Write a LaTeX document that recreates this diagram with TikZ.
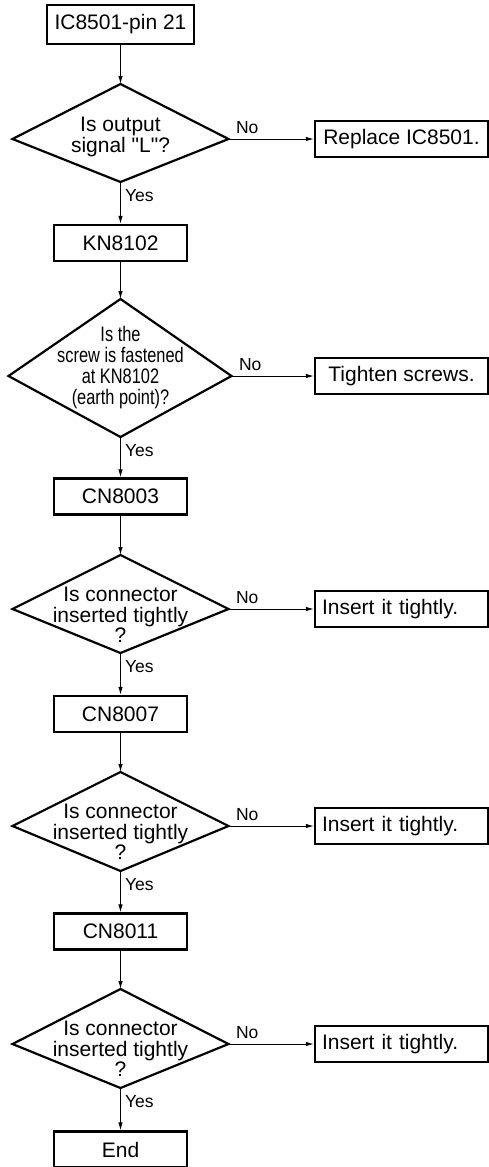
\documentclass[tikz,border=0pt]{standalone}
\usepackage{fontspec}
\newfontfamily\flowfont{Liberation Sans}
\newfontfamily\flownarrow[FakeStretch=0.78]{Liberation Sans}
\usetikzlibrary{arrows.meta}

\begin{document}
\begin{tikzpicture}[x=1pt, y=-1pt,
box/.style={draw, line width=2.2pt, inner sep=0pt, minimum width=133pt, minimum height=36pt,
    font=\flowfont\fontsize{21}{21}\selectfont},
fix/.style={box, minimum width=173pt},
insert/.style={fix, text width=159pt, inner xsep=7pt, align=left},
ask/.style={inner sep=0pt, align=center, font=\flowfont\fontsize{21}{20.5}\selectfont},
rim/.style={line width=2.2pt},
flow/.style={line width=1pt, -{Latex[length=8pt,width=4.5pt]}},
no/.style={pos=0, anchor=base west, xshift=7pt, yshift=6pt, inner sep=0pt,
    font=\flowfont\fontsize{17.5}{17.5}\selectfont},
yes/.style={pos=0, anchor=base west, xshift=4pt, yshift=-19pt, inner sep=0pt,
    font=\flowfont\fontsize{17.5}{17.5}\selectfont}]
\useasboundingbox (0,0) rectangle (489,1167);

\node[box, minimum width=147pt, minimum height=39pt] (start) at (120.5,24.5) {IC8501-pin 21};

% output signal
\coordinate (q1n) at (120.5,84);
\coordinate (q1e) at (228.5,139);
\coordinate (q1s) at (120.5,182);
\coordinate (q1w) at (12.5,139);
\draw[rim] (q1n) -- (q1e) -- (q1s) -- (q1w) -- cycle;
\node[ask, font=\flowfont\fontsize{21}{19}\selectfont] (q1) at (120.5,137) {Is output\\signal "L"?};
\node[fix] (fix1) at (401.5,139) {Replace IC8501.};
\node[box] (kn) at (120.5,243) {KN8102};

% earth screw
\coordinate (q2n) at (120.5,299);
\coordinate (q2e) at (231.5,376);
\coordinate (q2s) at (120.5,437);
\coordinate (q2w) at (8.5,376);
\draw[rim] (q2n) -- (q2e) -- (q2s) -- (q2w) -- cycle;
\node[ask, font=\flownarrow\fontsize{21}{21}\selectfont] (q2) at (120.5,367.5)
  {Is the\\screw is fastened\\at KN8102\\(earth point)?};
\node[fix] (fix2) at (401.5,376) {Tighten screws.};
\node[box] (cn3) at (120.5,496.5) {CN8003};

% connectors
\coordinate (q3n) at (120.5,555);
\coordinate (q3e) at (228.5,609);
\coordinate (q3s) at (120.5,653);
\coordinate (q3w) at (12.5,609);
\draw[rim] (q3n) -- (q3e) -- (q3s) -- (q3w) -- cycle;
\node[ask] (q3) at (120.5,615) {Is connector\\inserted tightly\\?};
\node[insert] (fix3) at (401.5,609) {Insert it tightly.};
\node[box] (cn7) at (120.5,714) {CN8007};

\coordinate (q4n) at (120.5,772);
\coordinate (q4e) at (228.5,826);
\coordinate (q4s) at (120.5,871);
\coordinate (q4w) at (12.5,826);
\draw[rim] (q4n) -- (q4e) -- (q4s) -- (q4w) -- cycle;
\node[ask] (q4) at (120.5,832) {Is connector\\inserted tightly\\?};
\node[insert] (fix4) at (401.5,826) {Insert it tightly.};
\node[box] (cn11) at (120.5,931.5) {CN8011};

\coordinate (q5n) at (120.5,989);
\coordinate (q5e) at (228.5,1044);
\coordinate (q5s) at (120.5,1088);
\coordinate (q5w) at (12.5,1044);
\draw[rim] (q5n) -- (q5e) -- (q5s) -- (q5w) -- cycle;
\node[ask] (q5) at (120.5,1049) {Is connector\\inserted tightly\\?};
\node[insert] (fix5) at (401.5,1044) {Insert it tightly.};
\node[box] (end) at (120.5,1149.5) {End};

% arrows
\draw[flow] (start) -- (q1n);
\draw[flow] (q1e) -- node[no] (no1) {No} (fix1);
\draw[flow] (q1s) -- node[yes] (yes1) {Yes} (kn);
\draw[flow] (kn) -- (q2n);
\draw[flow] (q2e) -- node[no] (no2) {No} (fix2);
\draw[flow] (q2s) -- node[yes] (yes2) {Yes} (cn3);
\draw[flow] (cn3) -- (q3n);
\draw[flow] (q3e) -- node[no] (no3) {No} (fix3);
\draw[flow] (q3s) -- node[yes] (yes3) {Yes} (cn7);
\draw[flow] (cn7) -- (q4n);
\draw[flow] (q4e) -- node[no] (no4) {No} (fix4);
\draw[flow] (q4s) -- node[yes] (yes4) {Yes} (cn11);
\draw[flow] (cn11) -- (q5n);
\draw[flow] (q5e) -- node[no] (no5) {No} (fix5);
\draw[flow] (q5s) -- node[yes] (yes5) {Yes} (end);
\end{tikzpicture}
\end{document}
